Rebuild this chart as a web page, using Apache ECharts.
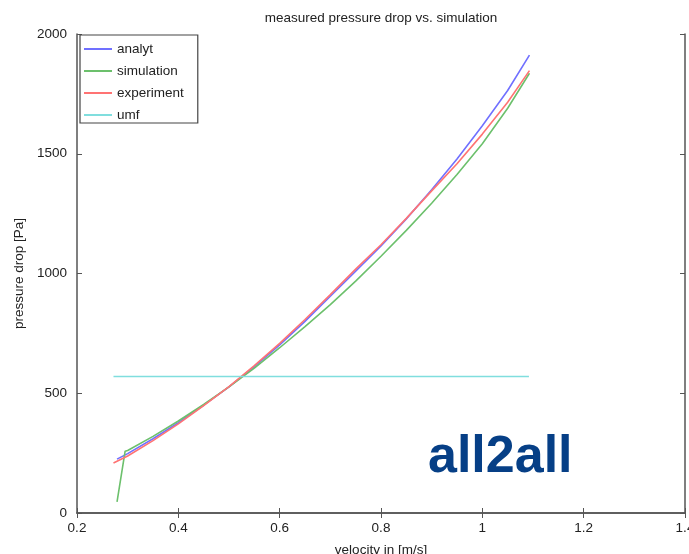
<!DOCTYPE html>
<html>
<head>
<meta charset="utf-8">
<script src="https://cdn.jsdelivr.net/npm/echarts@6/dist/echarts.min.js"></script>
<style>
  html, body { margin: 0; padding: 0; background: #fff; }
  #main { width: 689px; height: 554px; }
</style>
</head>
<body>
<div id="main"></div>
<script>
// velocities [m/s] and pressure drop [Pa]
const analytX = [0.279, 0.30, 0.35, 0.40, 0.45, 0.50, 0.55, 0.60, 0.65, 0.70, 0.75, 0.80, 0.85, 0.90, 0.95, 1.00, 1.05, 1.093];
const analytY = [225, 248, 310, 377, 450, 527, 611, 702, 800, 905, 1010, 1115, 1228, 1350, 1478, 1617, 1764, 1912];

const simX = [0.279, 0.295, 0.30, 0.35, 0.40, 0.45, 0.50, 0.55, 0.60, 0.65, 0.70, 0.75, 0.80, 0.85, 0.90, 0.95, 1.00, 1.05, 1.093];
const simY = [46, 258, 261, 320, 384, 453, 527, 605, 690, 778, 870, 968, 1072, 1180, 1293, 1413, 1542, 1690, 1836];

const expX = [0.272, 0.30, 0.35, 0.40, 0.45, 0.50, 0.55, 0.60, 0.65, 0.70, 0.75, 0.80, 0.85, 0.90, 0.95, 1.00, 1.05, 1.093];
const expY = [209, 238, 302, 372, 448, 528, 615, 708, 808, 912, 1018, 1120, 1230, 1345, 1458, 1582, 1715, 1847];

const umfX = [0.272, 1.092];
const umfY = [570, 570];

const xTicks = [0.2, 0.4, 0.6, 0.8, 1, 1.2, 1.4];
const yTicks = [0, 500, 1000, 1500, 2000];

function pairs(xs, ys) {
  return xs.map((x, i) => [x, ys[i]]);
}

const axisGray = '#555';
const font = 'Liberation Sans, Arial, sans-serif';

let myChart = echarts.init(document.getElementById('main'));
myChart.setOption({
  animation: false,
  title: {
    text: 'measured pressure drop vs. simulation',
    left: 376, top: 6, textAlign: 'center',
    textStyle: { fontFamily: font, fontSize: 13.5, fontWeight: 'normal', color: '#222' }
  },
  grid: { left: 77, right: 4, top: 34, bottom: 41, outerBoundsMode: 'none' },
  xAxis: [{
    type: 'value', min: xTicks[0], max: xTicks[xTicks.length - 1], interval: 0.2,
    name: 'velocity in [m/s]', nameLocation: 'middle', nameGap: 30,
    nameTextStyle: { fontFamily: font, fontSize: 13.5, color: '#222' },
    axisLine: { lineStyle: { color: axisGray, width: 1.5 } },
    axisTick: { inside: true, length: 5, lineStyle: { color: axisGray } },
    axisLabel: { fontFamily: font, fontSize: 13.5, color: '#222', margin: 8,
      formatter: v => String(parseFloat(v.toFixed(2))) },
    splitLine: { show: false }
  }, {
    type: 'value', position: 'top', min: xTicks[0], max: xTicks[xTicks.length - 1], interval: 0.2,
    axisLine: { show: true, lineStyle: { color: axisGray, width: 1.5 } },
    axisTick: { inside: true, length: 5, lineStyle: { color: axisGray } },
    axisLabel: { show: false }, splitLine: { show: false }
  }],
  yAxis: [{
    type: 'value', min: yTicks[0], max: yTicks[yTicks.length - 1], interval: 500,
    name: 'pressure drop [Pa]', nameLocation: 'middle', nameGap: 35,
    nameTextStyle: { fontFamily: font, fontSize: 13.5, color: '#222' },
    axisLine: { show: true, lineStyle: { color: axisGray, width: 1.5 } },
    axisTick: { show: true, inside: true, length: 5, lineStyle: { color: axisGray } },
    axisLabel: { fontFamily: font, fontSize: 13.5, color: '#222', margin: 10,
      formatter: v => String(v) },
    splitLine: { show: false }
  }, {
    type: 'value', position: 'right', min: yTicks[0], max: yTicks[yTicks.length - 1], interval: 500,
    axisLine: { show: true, lineStyle: { color: axisGray, width: 1.5 } },
    axisTick: { show: true, inside: true, length: 5, lineStyle: { color: axisGray } },
    axisLabel: { show: false }, splitLine: { show: false }
  }],
  legend: {
    left: 80, top: 35, orient: 'vertical', itemGap: 8,
    itemWidth: 28, itemHeight: 14, icon: 'path://M0,6 L28,6 L28,8 L0,8 Z',
    padding: [7, 14, 1, 4],
    borderColor: '#444', borderWidth: 1.2, backgroundColor: '#fff',
    textStyle: { fontFamily: font, fontSize: 13.5, color: '#222' },
    data: ['analyt', 'simulation', 'experiment', 'umf']
  },
  series: [
    { name: 'analyt', type: 'line', showSymbol: false, data: pairs(analytX, analytY),
      lineStyle: { color: '#7070ff', width: 1.6 }, itemStyle: { color: '#7070ff' } },
    { name: 'simulation', type: 'line', showSymbol: false, data: pairs(simX, simY),
      lineStyle: { color: '#6cc06c', width: 1.6 }, itemStyle: { color: '#6cc06c' } },
    { name: 'experiment', type: 'line', showSymbol: false, data: pairs(expX, expY),
      lineStyle: { color: '#ff7373', width: 1.6 }, itemStyle: { color: '#ff7373' } },
    { name: 'umf', type: 'line', showSymbol: false, data: pairs(umfX, umfY),
      lineStyle: { color: '#80dede', width: 1.6 }, itemStyle: { color: '#80dede' } }
  ],
  graphic: [{
    type: 'text', left: 428, top: 432,
    style: { text: 'all2all', fill: '#063f86', font: 'bold 52px Liberation Sans, Arial, sans-serif' }
  }]
});
</script>
</body>
</html>
